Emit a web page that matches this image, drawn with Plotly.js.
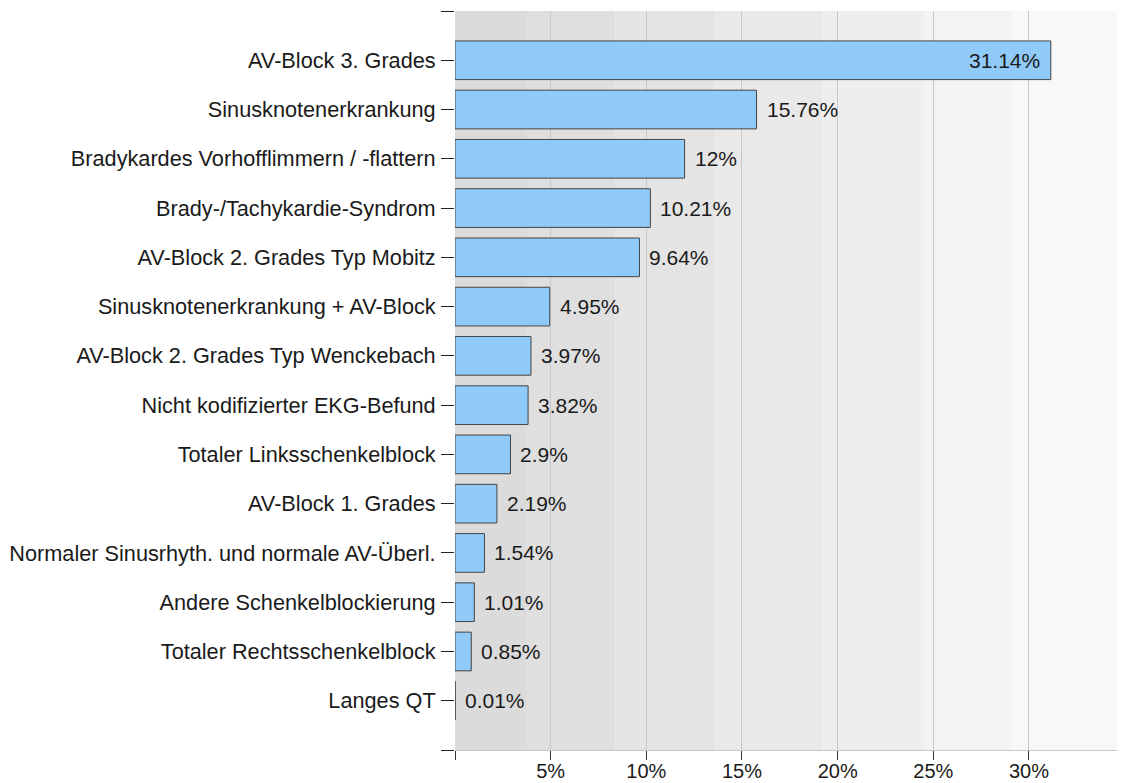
<!DOCTYPE html>
<html>
<head>
<meta charset="utf-8">
<script src="https://cdn.plot.ly/plotly-3.0.1.min.js"></script>
<style>html,body{margin:0;padding:0;background:#fff;}#chart{width:1125px;height:783px;}</style>
</head>
<body>
<div id="chart"></div>
<script>
const categories = [
  "AV-Block 3. Grades",
  "Sinusknotenerkrankung",
  "Bradykardes Vorhofflimmern / -flattern",
  "Brady-/Tachykardie-Syndrom",
  "AV-Block 2. Grades Typ Mobitz",
  "Sinusknotenerkrankung + AV-Block",
  "AV-Block 2. Grades Typ Wenckebach",
  "Nicht kodifizierter EKG-Befund",
  "Totaler Linksschenkelblock",
  "AV-Block 1. Grades",
  "Normaler Sinusrhyth. und normale AV-Überl.",
  "Andere Schenkelblockierung",
  "Totaler Rechtsschenkelblock",
  "Langes QT"
];
const values = [31.14, 15.76, 12, 10.21, 9.64, 4.95, 3.97, 3.82, 2.9, 2.19, 1.54, 1.01, 0.85, 0.01];
const xTickVals = [0, 5, 10, 15, 20, 25, 30];
const xTickText = ["", "5%", "10%", "15%", "20%", "25%", "30%"];
const bandEdges = [0, 3.76, 8.4, 13.6, 19.2, 24.5, 29.1, 34.6];
const bandColors = ["#dbdbdb", "#dfdfdf", "#e4e4e4", "#e9e9e9", "#eeeeee", "#f3f3f3", "#f8f8f8"];

const idx = categories.map((c, i) => i);
const yTickVals = [-1].concat(idx, [categories.length]);
const yTickText = [""].concat(categories, [""]);

const fontFam = "Liberation Sans, Arial, sans-serif";

const shapes = [];
for (let i = 0; i < bandColors.length; i++) {
  shapes.push({type: "rect", xref: "x", yref: "paper", x0: bandEdges[i], x1: bandEdges[i + 1], y0: 0, y1: 1,
    fillcolor: bandColors[i], line: {width: 0}, layer: "below"});
}

const annotations = values.map((v, i) => {
  const inside = i === 0;
  return {
    x: v, y: i, xref: "x", yref: "y",
    text: v + "%",
    showarrow: false,
    xanchor: inside ? "right" : "left",
    xshift: inside ? -9 : 8,
    font: {family: fontFam, size: 21, color: "#1a1a1a"}
  };
});

const trace = {
  type: "bar",
  orientation: "h",
  x: values,
  y: idx,
  width: 0.785,
  marker: {color: "#90caf9", line: {color: "#444", width: 1}},
  hoverinfo: "skip"
};

const layout = {
  width: 1125, height: 783,
  margin: {l: 455, r: 8, t: 11, b: 33, pad: 0},
  paper_bgcolor: "#fff",
  plot_bgcolor: "rgba(0,0,0,0)",
  showlegend: false,
  font: {family: fontFam, size: 20, color: "#1a1a1a"},
  xaxis: {
    range: [0, 34.6],
    tickvals: xTickVals, ticktext: xTickText,
    ticks: "outside", ticklen: 9, tickcolor: "#333", tickwidth: 1,
    ticklabelstandoff: -6,
    showgrid: true, gridcolor: "#c8c8c8", gridwidth: 1,
    zeroline: false,
    showline: true, linecolor: "#c8c8c8", linewidth: 1,
    tickfont: {family: fontFam, size: 20, color: "#1a1a1a"},
    fixedrange: true
  },
  yaxis: {
    range: [categories.length, -1],
    tickvals: yTickVals, ticktext: yTickText,
    ticks: "outside", ticklen: 13, tickcolor: "#222", tickwidth: 1,
    ticklabelstandoff: 1,
    showgrid: false, zeroline: false, showline: false,
    tickfont: {family: fontFam, size: 21.7, color: "#1a1a1a"},
    fixedrange: true
  },
  shapes: shapes,
  annotations: annotations
};

Plotly.newPlot("chart", [trace], layout, {displayModeBar: false, staticPlot: true});
</script>
</body>
</html>
